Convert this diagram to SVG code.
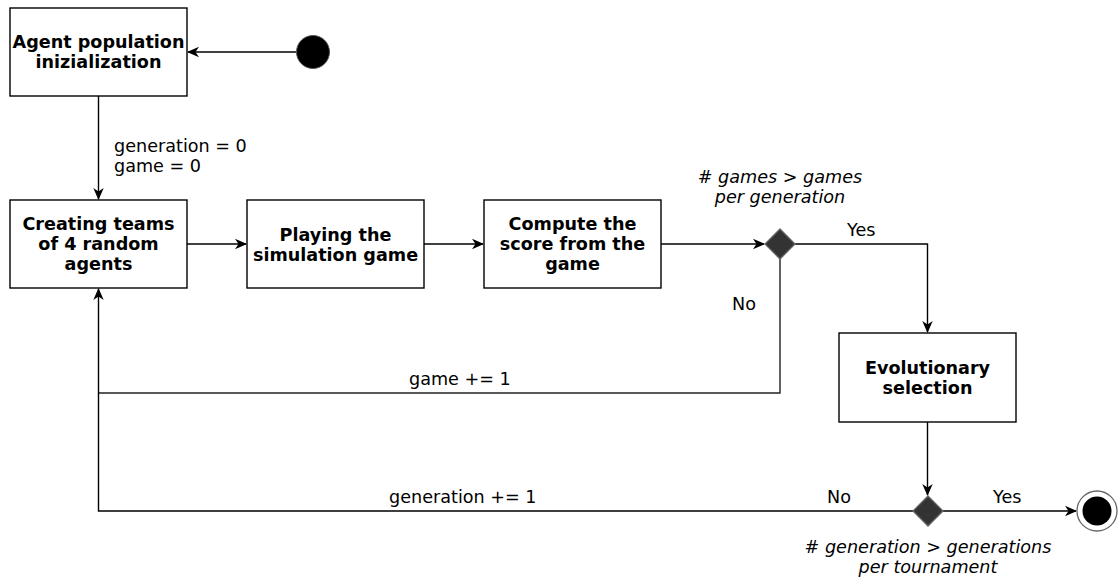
<svg xmlns="http://www.w3.org/2000/svg" width="1120" height="578" viewBox="0 0 1120 578">
<style>
.box{fill:#fff;stroke:#000;stroke-width:1.4}
.bt{font-family:"DejaVu Sans",Verdana,sans-serif;font-weight:bold;font-size:17.6px;text-anchor:middle;fill:#000}
.lt{font-family:"DejaVu Sans",Verdana,sans-serif;font-size:17.6px;fill:#000}
.it{font-family:"DejaVu Sans",Verdana,sans-serif;font-style:italic;font-size:17.6px;text-anchor:middle;fill:#000}
.ln{fill:none;stroke:#000;stroke-width:1.4}
.dia{fill:#333;stroke:#666;stroke-width:1.3}
</style>
<defs>
<marker id="arr" viewBox="0 0 12 12" refX="11" refY="6" markerWidth="12" markerHeight="12" markerUnits="userSpaceOnUse" orient="auto">
<path d="M0,0.8 L12,6 L0,11.2 L3.5,6 Z" fill="#000"/>
</marker>
</defs>
<rect width="1120" height="578" fill="#fff"/>
<g id="connectors">
<line class="ln" x1="296" y1="52" x2="188" y2="52" marker-end="url(#arr)"/>
<line class="ln" x1="98.5" y1="96" x2="98.5" y2="199" marker-end="url(#arr)"/>
<line class="ln" x1="187" y1="244" x2="246" y2="244" marker-end="url(#arr)"/>
<line class="ln" x1="424" y1="244" x2="483" y2="244" marker-end="url(#arr)"/>
<line class="ln" x1="661" y1="244" x2="764" y2="244" marker-end="url(#arr)"/>
<polyline class="ln" points="795,244 927.5,244 927.5,332" marker-end="url(#arr)"/>
<polyline class="ln" points="780,259 780,393 98.5,393" style="stroke:#222"/>
<polyline class="ln" points="913,511 98.5,511 98.5,289" marker-end="url(#arr)"/>
<line class="ln" x1="927.5" y1="422" x2="927.5" y2="495" marker-end="url(#arr)"/>
<line class="ln" x1="943" y1="511" x2="1076" y2="511" marker-end="url(#arr)"/>
<text class="lt" x="114" y="152">generation = 0</text>
<text class="lt" x="114" y="172">game = 0</text>
<text class="lt" x="847" y="236">Yes</text>
<text class="lt" x="732" y="310">No</text>
<text class="lt" x="409" y="385">game += 1</text>
<text class="lt" x="389" y="503">generation += 1</text>
<text class="lt" x="827" y="503">No</text>
<text class="lt" x="993" y="503">Yes</text>
</g>
<g id="start"><circle cx="313" cy="52" r="16.5" fill="#000" stroke="#555" stroke-width="1"/></g>
<g id="init">
<rect class="box" x="10" y="8" width="177" height="88"/>
<text class="bt" x="98.5" y="48">Agent population</text>
<text class="bt" x="98.5" y="68">inizialization</text>
</g>
<g id="teams">
<rect class="box" x="10" y="200" width="177" height="88"/>
<text class="bt" x="98.5" y="230">Creating teams</text>
<text class="bt" x="98.5" y="250">of 4 random</text>
<text class="bt" x="98.5" y="270">agents</text>
</g>
<g id="play">
<rect class="box" x="247" y="200" width="177" height="88"/>
<text class="bt" x="335.5" y="241">Playing the</text>
<text class="bt" x="335.5" y="261">simulation game</text>
</g>
<g id="score">
<rect class="box" x="484" y="200" width="177" height="88"/>
<text class="bt" x="572.5" y="230">Compute the</text>
<text class="bt" x="572.5" y="250">score from the</text>
<text class="bt" x="572.5" y="270">game</text>
</g>
<g id="decision1">
<polygon class="dia" points="780,229 795,244 780,259 765,244"/>
<text class="it" x="780" y="183"># games &gt; games</text>
<text class="it" x="780" y="203">per generation</text>
</g>
<g id="evolution">
<rect class="box" x="839" y="333" width="177" height="89"/>
<text class="bt" x="927.5" y="374">Evolutionary</text>
<text class="bt" x="927.5" y="394">selection</text>
</g>
<g id="decision2">
<polygon class="dia" points="928,496 943,511 928,526 913,511"/>
<text class="it" x="928" y="553"># generation &gt; generations</text>
<text class="it" x="928" y="573">per tournament</text>
</g>
<g id="end">
<circle cx="1097" cy="511" r="20" fill="#fff" stroke="#666" stroke-width="1.3"/>
<circle cx="1097" cy="511" r="14.5" fill="#000"/>
</g>
</svg>
